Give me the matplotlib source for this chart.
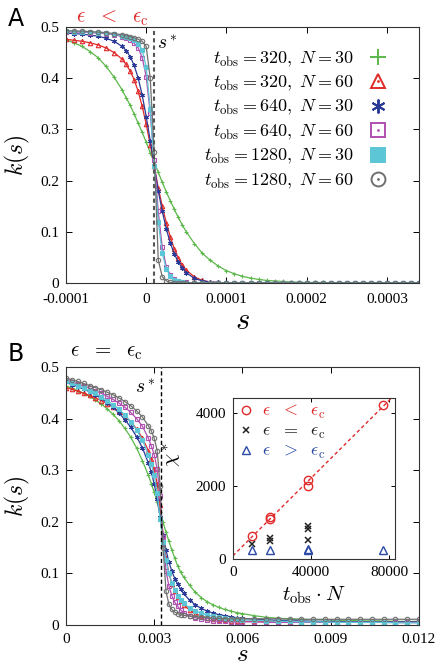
import matplotlib
matplotlib.use("Agg")
import matplotlib.pyplot as plt
import numpy as np
from matplotlib.lines import Line2D
from matplotlib.legend_handler import HandlerTuple

plt.rcParams['font.family'] = ['Liberation Serif', 'DejaVu Serif']
plt.rcParams['mathtext.fontset'] = 'cm'

# ---- panel A: s grid (units of 1e-6) and k(s) per run ----
s_a = [-100, -90, -80, -70, -60, -50, -40, -30,
       -25, -20, -15, -10, -5, 0, 5, 10, 15, 20, 25, 30, 35, 40, 45, 50,
       60, 70, 80, 90, 100, 110, 120, 130, 140, 150, 160, 170, 180, 190, 200,
       210, 220, 230, 240, 250, 260, 270, 280, 290, 300, 310, 320, 330, 340]

k_a_320_30 = [0.475, 0.469, 0.462, 0.452, 0.440, 0.423, 0.402, 0.377,
              0.362, 0.347, 0.330, 0.312, 0.294, 0.275, 0.254, 0.236, 0.216, 0.197, 0.178, 0.161, 0.144, 0.128, 0.113, 0.100,
              0.077, 0.058, 0.044, 0.033, 0.024, 0.018, 0.013, 0.0096, 0.007, 0.005, 0.004, 0.003, 0.002, 0.0015, 0.001,
              0.001, 0.001, 0, 0, 0, 0, 0, 0, 0, 0, 0, 0, 0, 0]
k_a_320_60 = [0.476, 0.474, 0.472, 0.469, 0.465, 0.459, 0.450, 0.437,
              0.427, 0.414, 0.397, 0.374, 0.345, 0.310, 0.270, 0.228, 0.186, 0.150, 0.118, 0.090, 0.067, 0.049, 0.035, 0.025,
              0.012, 0.005, 0.002, 0.001, 0, 0, 0, 0, 0, 0, 0, 0, 0, 0, 0,
              0, 0, 0, 0, 0, 0, 0, 0, 0, 0, 0, 0, 0, 0]
k_a_640_30 = [0.488, 0.487, 0.486, 0.484, 0.482, 0.478, 0.472, 0.462,
              0.454, 0.442, 0.425, 0.400, 0.367, 0.325, 0.278, 0.228, 0.180, 0.140, 0.106, 0.078, 0.057, 0.041, 0.029, 0.020,
              0.009, 0.004, 0.002, 0.001, 0, 0, 0, 0, 0, 0, 0, 0, 0, 0, 0,
              0, 0, 0, 0, 0, 0, 0, 0, 0, 0, 0, 0, 0, 0]
k_a_640_60 = [0.491, 0.490, 0.490, 0.489, 0.488, 0.487, 0.485, 0.481,
              0.478, 0.474, 0.468, 0.459, 0.440, 0.403, 0.332, 0.240, 0.140, 0.070, 0.032, 0.016, 0.008, 0.004, 0.002, 0.001,
              0, 0, 0, 0, 0, 0, 0, 0, 0, 0, 0, 0, 0, 0, 0,
              0, 0, 0, 0, 0, 0, 0, 0, 0, 0, 0, 0, 0, 0]
k_a_1280_30 = [0.492, 0.491, 0.491, 0.490, 0.489, 0.488, 0.486, 0.483,
               0.481, 0.478, 0.474, 0.467, 0.455, 0.422, 0.340, 0.228, 0.120, 0.058, 0.028, 0.013, 0.006, 0.003, 0.001, 0,
               0, 0, 0, 0, 0, 0, 0, 0, 0, 0, 0, 0, 0, 0, 0,
               0, 0, 0, 0, 0, 0, 0, 0, 0, 0, 0, 0, 0, 0]
k_a_1280_60 = [0.493, 0.492, 0.492, 0.491, 0.490, 0.489, 0.487, 0.485,
               0.483, 0.481, 0.479, 0.476, 0.472, 0.462, 0.400, 0.255, 0.045, 0.012, 0.004, 0.001, 0, 0, 0, 0,
               0, 0, 0, 0, 0, 0, 0, 0, 0, 0, 0, 0, 0, 0, 0,
               0, 0, 0, 0, 0, 0, 0, 0, 0, 0, 0, 0, 0, 0]

# ---- panel B: s grid (units of 1e-3) ----
s_b = [0, 0.2, 0.4, 0.6, 0.8, 1.0, 1.2, 1.4, 1.6, 1.8, 2.0, 2.2, 2.4, 2.6, 2.8,
       2.9, 3.0, 3.1, 3.2, 3.3, 3.4, 3.5, 3.6, 3.7, 3.8, 3.9, 4.0,
       4.2, 4.4, 4.6, 4.8, 5.0, 5.2, 5.4, 5.6, 5.8, 6.0,
       6.4, 6.8, 7.2, 7.6, 8.0, 8.4, 8.8, 9.2, 9.6, 10.0, 10.4, 10.8, 11.2, 11.6, 12.0]

k_b_320_30 = [0.463, 0.459, 0.454, 0.449, 0.443, 0.436, 0.428, 0.419, 0.408, 0.396, 0.381, 0.364, 0.343, 0.318, 0.290,
              0.274, 0.257, 0.238, 0.218, 0.199, 0.180, 0.162, 0.145, 0.129, 0.114, 0.102, 0.093,
              0.077, 0.063, 0.053, 0.045, 0.039, 0.034, 0.030, 0.027, 0.024, 0.022,
              0.018, 0.015, 0.013, 0.012, 0.011, 0.010, 0.010, 0.009, 0.009, 0.008, 0.008, 0.008, 0.007, 0.007, 0.007]
k_b_320_60 = [0.460, 0.457, 0.453, 0.449, 0.445, 0.440, 0.435, 0.429, 0.422, 0.414, 0.405, 0.394, 0.380, 0.362, 0.338,
              0.322, 0.302, 0.274, 0.232, 0.175, 0.130, 0.100, 0.080, 0.066, 0.055, 0.046, 0.039,
              0.029, 0.022, 0.017, 0.014, 0.012, 0.010, 0.009, 0.008, 0.008, 0.007,
              0.007, 0.007, 0.007, 0.006, 0.006, 0.006, 0.006, 0.006, 0.006, 0.006, 0.006, 0.005, 0.005, 0.005, 0.005]
k_b_640_30 = [0.470, 0.466, 0.462, 0.457, 0.452, 0.446, 0.439, 0.431, 0.422, 0.411, 0.398, 0.383, 0.365, 0.343, 0.314,
              0.296, 0.273, 0.244, 0.210, 0.175, 0.145, 0.122, 0.104, 0.090, 0.079, 0.069, 0.061,
              0.048, 0.039, 0.032, 0.027, 0.023, 0.020, 0.018, 0.016, 0.014, 0.013,
              0.011, 0.010, 0.009, 0.008, 0.008, 0.007, 0.007, 0.007, 0.006, 0.006, 0.006, 0.006, 0.006, 0.006, 0.006]
k_b_640_60 = [0.475, 0.471, 0.467, 0.463, 0.459, 0.454, 0.449, 0.443, 0.437, 0.430, 0.422, 0.412, 0.400, 0.385, 0.362,
              0.347, 0.330, 0.302, 0.250, 0.170, 0.105, 0.075, 0.057, 0.044, 0.036, 0.029, 0.024,
              0.018, 0.014, 0.011, 0.009, 0.008, 0.007, 0.007, 0.006, 0.006, 0.006,
              0.006, 0.005, 0.005, 0.005, 0.005, 0.005, 0.005, 0.005, 0.005, 0.005, 0.005, 0.005, 0.005, 0.005, 0.005]
k_b_1280_30 = [0.472, 0.468, 0.464, 0.459, 0.454, 0.449, 0.442, 0.435, 0.427, 0.418, 0.407, 0.394, 0.378, 0.358, 0.330,
               0.312, 0.290, 0.255, 0.205, 0.160, 0.125, 0.100, 0.082, 0.068, 0.057, 0.049, 0.042,
               0.033, 0.027, 0.023, 0.019, 0.017, 0.015, 0.013, 0.012, 0.011, 0.010,
               0.009, 0.008, 0.007, 0.007, 0.006, 0.006, 0.006, 0.005, 0.005, 0.005, 0.005, 0.005, 0.004, 0.004, 0.004]
k_b_1280_60 = [0.478, 0.475, 0.472, 0.468, 0.464, 0.460, 0.456, 0.451, 0.446, 0.440, 0.433, 0.425, 0.415, 0.403, 0.386,
               0.376, 0.362, 0.338, 0.270, 0.150, 0.065, 0.040, 0.030, 0.025, 0.022, 0.020, 0.019,
               0.017, 0.016, 0.015, 0.014, 0.013, 0.013, 0.012, 0.012, 0.012, 0.012,
               0.012, 0.012, 0.012, 0.011, 0.011, 0.011, 0.011, 0.011, 0.011, 0.011, 0.011, 0.011, 0.011, 0.011, 0.011]

s_star_a = 0.0000091
s_star_b = 0.00323

# ---- inset: chi* vs t_obs*N ----
tN_below = [9600, 19200, 19200, 38400, 38400, 76800]
chi_below = [620, 1100, 1150, 2000, 2150, 4200]
tN_crit = [9600, 19200, 19200, 38400, 38400, 38400]
chi_crit = [400, 480, 560, 530, 820, 900]
tN_above = [9600, 19200, 38400, 38400, 76800]
chi_above = [250, 250, 250, 265, 250]

runs = ["320, 30", "320, 60", "640, 30", "640, 60", "1280, 30", "1280, 60"]
labels = [r"$t_{\rm obs}=%s,\ N=%s$" % tuple(r.split(", ")) for r in runs]
colors = ["#5cb84a", "#e02a2a", "#2b3a96", "#b050b0", "#5cc6d6", "#707070"]
markers = ["+", "^", (6, 2, 0), "s", "s", "o"]
filled = [True, False, True, False, True, False]

k_a = [k_a_320_30, k_a_320_60, k_a_640_30, k_a_640_60, k_a_1280_30, k_a_1280_60]
k_b = [k_b_320_30, k_b_320_60, k_b_640_30, k_b_640_60, k_b_1280_30, k_b_1280_60]


def style_axes(ax, xpad=7):
    ax.tick_params(direction="in", top=True, right=True, length=4, width=0.7,
                   labelsize=11, pad=5)
    ax.tick_params(axis="x", pad=xpad)
    for sp in ax.spines.values():
        sp.set_linewidth(0.8)
        sp.set_color("#333333")


def draw_curves(ax, s, ks, scale):
    x = np.array(s) * scale
    for k, c, m, f in zip(ks, colors, markers, filled):
        ax.plot(x, k, color=c, lw=0.9, marker=m, ms=3.2, mew=0.8,
                mfc=c if f else "none", mec=c)


fig = plt.figure(figsize=(4.42, 6.66), dpi=100)

# ---------- A ----------
axA = fig.add_axes([0.1493, 0.5751, 0.7986, 0.3844])
draw_curves(axA, s_a, k_a, 1e-6)
axA.axvline(s_star_a, color="#555555", ls=(0, (2, 1.5)), lw=1.5)
axA.set_xlim(-0.0001, 0.00034)
axA.set_ylim(0, 0.5)
axA.set_xticks([-0.0001, 0, 0.0001, 0.0002, 0.0003])
axA.set_xticklabels(["-0.0001", "0", "0.0001", "0.0002", "0.0003"])
axA.set_yticks([0, 0.1, 0.2, 0.3, 0.4, 0.5])
axA.set_yticklabels(["0", "0.1", "0.2", "0.3", "0.4", "0.5"])
style_axes(axA)
axA.set_xlabel(r"$s$", fontsize=22)
axA.xaxis.set_label_coords(0.5, -0.15)
axA.xaxis.label.set_va("center")
axA.set_ylabel(r"$k(s)$", fontsize=17, labelpad=6)
axA.text(0.000014, 0.465, r"$s^*$", fontsize=14, va="center")

handles = []
for c, m, f in zip(colors, markers, filled):
    h = Line2D([], [], ls="none", marker=m, ms=10 if m != "+" else 12, mew=1.4,
               color=c, mfc=c if f else "none", mec=c)
    if not f and m != "+":
        dot = Line2D([], [], ls="none", marker=".", ms=2, color=c)
        handles.append((h, dot))
    else:
        handles.append(h)
axA.legend(handles, labels, loc="upper right", bbox_to_anchor=(0.935, 0.94),
           frameon=False, markerfirst=False, fontsize=13, handlelength=1.2,
           handletextpad=0.7, labelspacing=0.3, borderaxespad=0,
           handler_map={tuple: HandlerTuple(ndivide=1)})

fig.text(0.035, 0.972, "A", fontsize=17, family="DejaVu Sans", va="center", ha="center")
fig.text(0.255, 0.973, r"$\epsilon\ \ <\ \ \epsilon_{\rm c}$", fontsize=15,
         color="#e02a2a", va="center", ha="center")

# ---------- B ----------
axB = fig.add_axes([0.1493, 0.0616, 0.7986, 0.3874])
draw_curves(axB, s_b, k_b, 1e-3)
axB.axvline(s_star_b, color="black", ls=(0, (3, 2)), lw=1.0)
axB.set_xlim(0, 0.012)
axB.set_ylim(0, 0.5)
axB.set_xticks([0, 0.003, 0.006, 0.009, 0.012])
axB.set_xticklabels(["0", "0.003", "0.006", "0.009", "0.012"])
axB.set_yticks([0, 0.1, 0.2, 0.3, 0.4, 0.5])
axB.set_yticklabels(["0", "0.1", "0.2", "0.3", "0.4", "0.5"])
style_axes(axB, xpad=6)
axB.set_xlabel(r"$s$", fontsize=18)
axB.xaxis.set_label_coords(0.5, -0.118)
axB.xaxis.label.set_va("center")
axB.set_ylabel(r"$k(s)$", fontsize=17, labelpad=6)
axB.text(0.00235, 0.458, r"$s^*$", fontsize=14, va="center")

fig.text(0.035, 0.468, "B", fontsize=17, family="DejaVu Sans", va="center", ha="center")
fig.text(0.24, 0.471, r"$\epsilon\ \ =\ \ \epsilon_{\rm c}$", fontsize=15,
         color="black", va="center", ha="center")

# ---------- inset ----------
axI = fig.add_axes([0.527, 0.1607, 0.3665, 0.2417])
fit = np.polyfit(tN_below, chi_below, 1)
xf = np.array([0, 83000])
axI.plot(xf, np.polyval(fit, xf), color="#e02a2a", ls=(0, (2.5, 2)), lw=1.0)
axI.plot(tN_below, chi_below, ls="none", marker="o", ms=6, mfc="none",
         mec="#e02a2a", mew=1.0, label=r"$\epsilon\ \ <\ \ \epsilon_{\rm c}$")
axI.plot(tN_crit, chi_crit, ls="none", marker="x", ms=5, color="#222222",
         mew=1.1, label=r"$\epsilon\ \ =\ \ \epsilon_{\rm c}$")
axI.plot(tN_above, chi_above, ls="none", marker="^", ms=5.5, mfc="none",
         mec="#2b4aa6", mew=1.0, label=r"$\epsilon\ \ >\ \ \epsilon_{\rm c}$")
axI.set_xlim(0, 83000)
axI.set_ylim(0, 4400)
axI.set_xticks([0, 40000, 80000])
axI.set_xticklabels(["0", "40000", "80000"])
axI.set_yticks([0, 2000, 4000])
axI.set_yticklabels(["0", "2000", "4000"])
style_axes(axI, xpad=5)
axI.tick_params(length=3)
axI.set_xlabel(r"$t_{\rm obs}\cdot N$", fontsize=15, labelpad=4)
axI.set_ylabel(r"$\chi^*$", fontsize=15)
axI.yaxis.set_label_coords(-0.31, 0.65)
leg = axI.legend(loc="upper left", frameon=False, fontsize=13, handlelength=0.8,
                 handletextpad=0.5, labelspacing=0.1, borderaxespad=0.2,
                 borderpad=0.1)
for t, c in zip(leg.get_texts(), ["#e02a2a", "#222222", "#2b4aa6"]):
    t.set_color(c)

fig.savefig("out.png", dpi=100)
